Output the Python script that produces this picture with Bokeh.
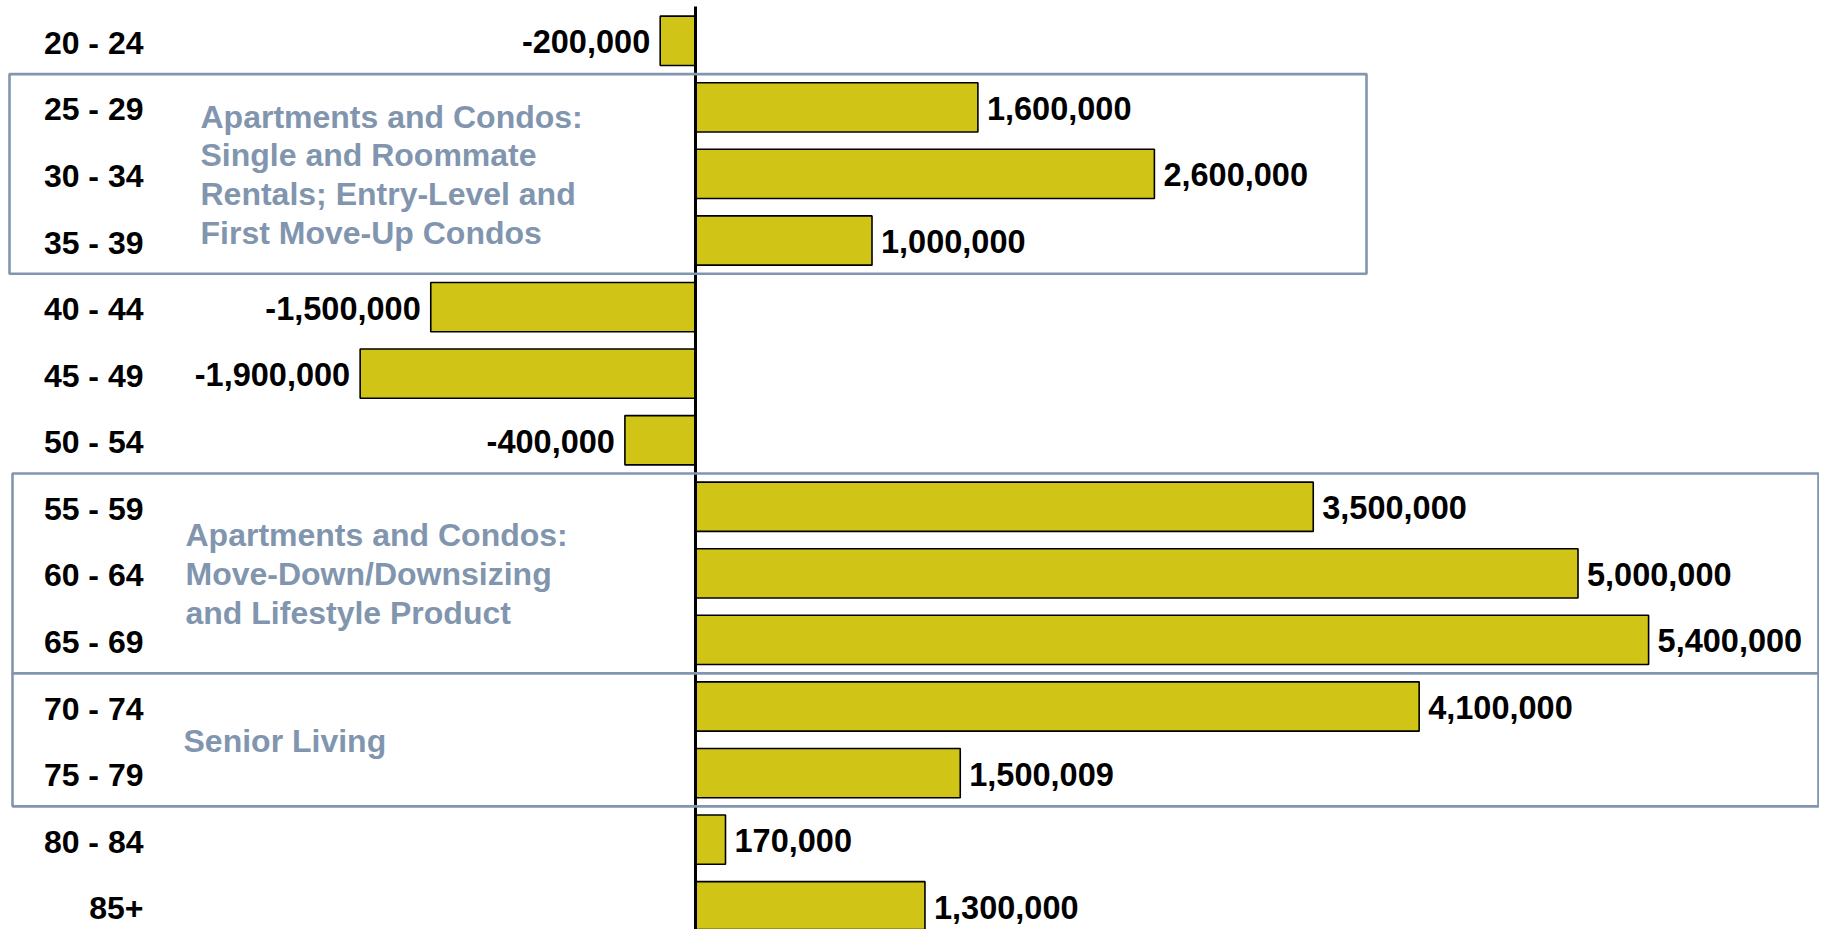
from bokeh.plotting import figure
from bokeh.models import Range1d, BoxAnnotation, ColumnDataSource
from bokeh.core.properties import value
from bokeh.embed import file_html
from bokeh.resources import INLINE

# ---- data ----
age_groups = ["20 - 24", "25 - 29", "30 - 34", "35 - 39", "40 - 44", "45 - 49", "50 - 54",
              "55 - 59", "60 - 64", "65 - 69", "70 - 74", "75 - 79", "80 - 84", "85+"]
change = [-200000, 1600000, 2600000, 1000000, -1500000, -1900000, -400000,
          3500000, 5000000, 5400000, 4100000, 1500009, 170000, 1300000]

groups = [
    ("Apartments and Condos:\nSingle and Roommate\nRentals; Entry-Level and\nFirst Move-Up Condos", "25 - 29", "35 - 39"),
    ("Apartments and Condos:\nMove-Down/Downsizing\nand Lifestyle Product", "55 - 59", "65 - 69"),
    ("Senior Living", "70 - 74", "75 - 79"),
]

# ---- layout ----
W, H = 1819, 929
PX_PER_UNIT = 176.5 / 1e6      # pixels per person
ZERO_PX = 695                  # zero line position from the left of the frame
x_start = -ZERO_PX / PX_PER_UNIT
x_end = (W - ZERO_PX) / PX_PER_UNIT
PITCH = 66.57                  # pixels per row
y_top = -40.3 / PITCH
y_bottom = y_top + H / PITCH

def px_to_x(px):
    return x_start + px / PX_PER_UNIT

FONT = value("Liberation Sans")
BAR_COLOR = "#D0C416"
NOTE_COLOR = "#8196AE"
FS = "32px"

n = len(age_groups)
idx = list(range(n))

p = figure(width=W, height=H, output_backend="svg", toolbar_location=None,
           x_range=Range1d(x_start, x_end), y_range=Range1d(y_bottom, y_top),
           x_axis_type=None, y_axis_type=None, min_border=0,
           background_fill_color="white", border_fill_color="white")
p.outline_line_color = None
p.grid.visible = False

src = ColumnDataSource(dict(y=idx, v=change))
p.hbar(y="y", left=0, right="v", height=0.74, source=src,
       fill_color=BAR_COLOR, line_color="black", line_width=1.6)

# zero line (starts a few pixels below the top)
p.segment(x0=[0], x1=[0], y0=[y_bottom], y1=[y_top + 6 / PITCH],
          line_color="black", line_width=3)

# value labels
pos = [i for i in idx if change[i] >= 0]
neg = [i for i in idx if change[i] < 0]
p.text(x=[change[i] for i in pos], y=pos, text=[f"{change[i]:,}" for i in pos],
       x_offset=9, text_align="left", text_baseline="middle", y_offset=1,
       text_font=FONT, text_font_style="bold", text_font_size="32.5px", text_color="black")
p.text(x=[change[i] for i in neg], y=neg, text=[f"{change[i]:,}" for i in neg],
       x_offset=-10, text_align="right", text_baseline="middle", y_offset=1,
       text_font=FONT, text_font_style="bold", text_font_size="32.5px", text_color="black")

# category labels
p.text(x=[x_start] * n, y=idx, text=age_groups, x_offset=143, y_offset=2,
       text_align="right", text_baseline="middle",
       text_font=FONT, text_font_style="bold", text_font_size=FS, text_color="black")

# group boxes and notes
box_px = [(9, 1366), (12, 1818), (12, 1818)]
note_px = [200, 185, 183]
for (note, g0, g1), (l, r), tx in zip(groups, box_px, note_px):
    i0, i1 = age_groups.index(g0), age_groups.index(g1)
    p.add_layout(BoxAnnotation(left=px_to_x(l), right=px_to_x(r), top=i0 - 0.5, bottom=i1 + 0.5,
                               fill_color=None, fill_alpha=0, line_color=NOTE_COLOR,
                               line_alpha=1.0, line_width=2.6))
    p.text(x=[x_start], y=[(i0 + i1) / 2], text=[note], x_offset=tx, y_offset=1,
           text_align="left", text_baseline="middle", text_line_height=1.08,
           text_font=FONT, text_font_style="bold", text_font_size=FS, text_color=NOTE_COLOR)

open("out.html", "w").write(file_html(p, INLINE))
